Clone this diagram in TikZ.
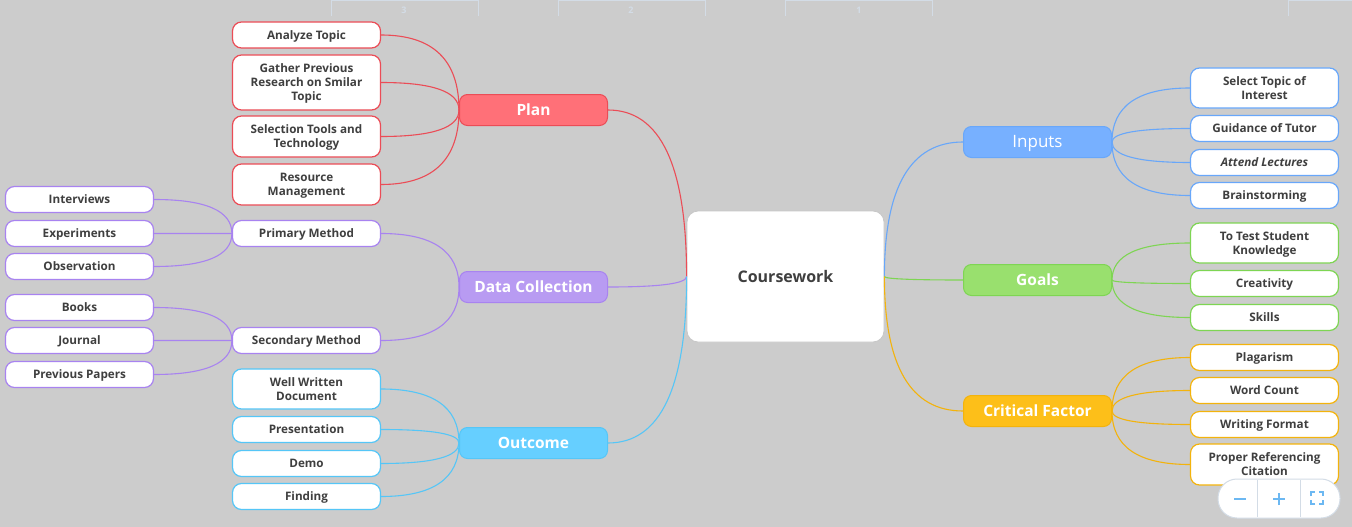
\documentclass[tikz,border=0pt]{standalone}
\usepackage{fontspec}
\usetikzlibrary{calc}
\setmainfont{Open Sans}
\definecolor{bg}{HTML}{CCCCCC}
\definecolor{txt}{HTML}{3F3F3F}
\definecolor{redf}{HTML}{FF7078}
\definecolor{redl}{HTML}{EB4C56}
\definecolor{purf}{HTML}{B89BF2}
\definecolor{purl}{HTML}{A883F0}
\definecolor{cyaf}{HTML}{66CFFF}
\definecolor{cyal}{HTML}{55C6F7}
\definecolor{bluf}{HTML}{77B0FF}
\definecolor{blul}{HTML}{68A7FA}
\definecolor{grnf}{HTML}{99E06E}
\definecolor{grnl}{HTML}{7ED553}
\definecolor{yelf}{HTML}{FDBF19}
\definecolor{yell}{HTML}{F3B30C}
\definecolor{uiline}{HTML}{D3DCE6}
\definecolor{uiblue}{HTML}{6CB8F2}
\tikzset{
  leaf/.style={draw, fill=white, rounded corners=9pt, line width=1.2pt, minimum width=148pt,
    minimum height=26pt, inner sep=0pt, align=center, text=txt, text depth=0.5pt,
    font=\fontsize{11.7}{14}\selectfont\bfseries},
  mainbox/.style={draw, rounded corners=8pt, line width=1pt, minimum width=148pt,
    minimum height=31pt, inner sep=0pt, text=white, text depth=1pt, font=\fontsize{15.5}{18}\selectfont\bfseries},
  conn/.style={line width=1.1pt},
}
% quadratic curve from #2 to #3 with control point at (#3 x, #2 y)
\newcommand{\qcurve}[3]{%
  \draw[conn,#1] (#2) .. controls ($(#2)!0.667!(#3 |- #2)$) and ($(#3)!0.667!(#3 |- #2)$) .. (#3);}
\begin{document}
\begin{tikzpicture}[x=1pt,y=-1pt]
\fill[bg] (0,0) rectangle (1352,527);
\useasboundingbox (0,0) rectangle (1352,527);
% faint UI tabs at the top
\foreach \a/\b in {331/478,558/705,785/932,1288/1352}{
  \draw[uiline, line width=1pt] (\a,1) -- (\b,1);
  \draw[uiline, line width=0.8pt] (\a,0) -- (\a,16);
  \draw[uiline, line width=0.8pt] (\b,0) -- (\b,16);
}
\node[text=uiline, font=\fontsize{9}{10}\selectfont\bfseries] (t3) at (404,10) {3};
\node[text=uiline, font=\fontsize{9}{10}\selectfont\bfseries] (t2) at (631,10) {2};
\node[text=uiline, font=\fontsize{9}{10}\selectfont\bfseries] (t1) at (859,10) {1};

% central
\node[draw=black!22, fill=white, rounded corners=11pt, line width=0.8pt, minimum width=197pt, minimum height=131pt,
  text=txt, font=\fontsize{16}{18}\selectfont\bfseries] (cw) at (785.5,276.5) {Coursework};

% main branches
\node[mainbox, fill=redf, draw=redl] (plan) at (533.5,110) {Plan};
\node[mainbox, fill=purf, draw=purl] (dc) at (533.5,287) {Data Collection};
\node[mainbox, fill=cyaf, draw=cyal] (out) at (533.5,443) {Outcome};
\node[mainbox, fill=bluf, draw=blul, font=\fontsize{17}{19}\selectfont] (inp) at (1037.5,142) {Inputs};
\node[mainbox, fill=grnf, draw=grnl] (goal) at (1037.5,280) {Goals};
\node[mainbox, fill=yelf, draw=yell] (crit) at (1037.5,411) {Critical Factor};

% Plan leaves
\node[leaf, draw=redl] (p1) at (306.5,35) {Analyze Topic};
\node[leaf, draw=redl, minimum height=55pt] (p2) at (306.5,82.5) {Gather Previous\\Research on Smilar\\Topic};
\node[leaf, draw=redl, minimum height=41pt] (p3) at (306.5,136.5) {Selection Tools and\\Technology};
\node[leaf, draw=redl, minimum height=41pt] (p4) at (306.5,184.5) {Resource\\Management};

% Data collection
\node[leaf, draw=purl] (pm) at (306.5,233.5) {Primary Method};
\node[leaf, draw=purl] (sm) at (306.5,340.5) {Secondary Method};
\node[leaf, draw=purl] (d1) at (79.5,199.5) {Interviews};
\node[leaf, draw=purl] (d2) at (79.5,233.5) {Experiments};
\node[leaf, draw=purl] (d3) at (79.5,266.5) {Observation};
\node[leaf, draw=purl] (d4) at (79.5,307.5) {Books};
\node[leaf, draw=purl] (d5) at (79.5,340.5) {Journal};
\node[leaf, draw=purl] (d6) at (79.5,374.5) {Previous Papers};

% Outcome
\node[leaf, draw=cyal, minimum height=40pt] (o1) at (306.5,389) {Well Written\\Document};
\node[leaf, draw=cyal] (o2) at (306.5,429.5) {Presentation};
\node[leaf, draw=cyal] (o3) at (306.5,463.5) {Demo};
\node[leaf, draw=cyal] (o4) at (306.5,496.5) {Finding};

% Inputs
\node[leaf, draw=blul, minimum height=40pt] (i1) at (1264.5,88) {Select Topic of\\Interest};
\node[leaf, draw=blul] (i2) at (1264.5,128.5) {Guidance of Tutor};
\node[leaf, draw=blul, font=\fontsize{11.7}{14}\selectfont\bfseries\itshape] (i3) at (1264.5,162.5) {Attend Lectures};
\node[leaf, draw=blul] (i4) at (1264.5,195.5) {Brainstorming};

% Goals
\node[leaf, draw=grnl, minimum height=40pt] (g1) at (1264.5,243) {To Test Student\\Knowledge};
\node[leaf, draw=grnl] (g2) at (1264.5,283.5) {Creativity};
\node[leaf, draw=grnl] (g3) at (1264.5,317.5) {Skills};

% Critical factor
\node[leaf, draw=yell] (c1) at (1264.5,357.5) {Plagarism};
\node[leaf, draw=yell] (c2) at (1264.5,390.5) {Word Count};
\node[leaf, draw=yell] (c3) at (1264.5,424.5) {Writing Format};
\node[leaf, draw=yell, minimum height=41pt] (c4) at (1264.5,464.5) {Proper Referencing\\Citation};

% connectors: centre to main
\qcurve{redl}{plan.east}{cw.west}
\qcurve{purl}{dc.east}{cw.west}
\qcurve{cyal}{out.east}{cw.west}
\qcurve{blul}{inp.west}{cw.east}
\qcurve{grnl}{goal.west}{cw.east}
\qcurve{yell}{crit.west}{cw.east}

% left leaves
\foreach \n in {p1,p2,p3,p4} {\qcurve{redl}{\n.east}{plan.west}}
\foreach \n in {pm,sm} {\qcurve{purl}{\n.east}{dc.west}}
\foreach \n in {d1,d2,d3} {\qcurve{purl}{\n.east}{pm.west}}
\foreach \n in {d4,d5,d6} {\qcurve{purl}{\n.east}{sm.west}}
\foreach \n in {o1,o2,o3,o4} {\qcurve{cyal}{\n.east}{out.west}}

% right leaves
\foreach \n in {i1,i2,i3,i4} {\qcurve{blul}{\n.west}{inp.east}}
\foreach \n in {g1,g2,g3} {\qcurve{grnl}{\n.west}{goal.east}}
\foreach \n in {c1,c2,c3,c4} {\qcurve{yell}{\n.west}{crit.east}}

% zoom control
\node[draw=uiline, fill=white, rounded corners=19pt, line width=1pt, minimum width=122pt, minimum height=39pt, inner sep=0pt] (zc) at (1279,498.5) {};
\coordinate (zd1t) at (1257,480);
\coordinate (zd1b) at (1257,517);
\coordinate (zd2t) at (1300,480);
\coordinate (zd2b) at (1300,517);
\draw[uiline, line width=0.8pt] (zd1t) -- (zd1b);
\draw[uiline, line width=0.8pt] (zd2t) -- (zd2b);
\coordinate (zm) at (1240,499);
\coordinate (zp) at (1279,499);
\coordinate (zf) at (1317,498);
\draw[uiblue, line width=2pt] ([xshift=-6pt]zm) -- ([xshift=6pt]zm);
\draw[uiblue, line width=2pt] ([xshift=-6pt]zp) -- ([xshift=6pt]zp) ([yshift=-6pt]zp) -- ([yshift=6pt]zp);
\draw[uiblue, line width=1.3pt]
  ([shift={(-6,-2)}]zf) -- ([shift={(-6,-6)}]zf) -- ([shift={(-2,-6)}]zf)
  ([shift={(2,-6)}]zf) -- ([shift={(6,-6)}]zf) -- ([shift={(6,-2)}]zf)
  ([shift={(6,2)}]zf) -- ([shift={(6,6)}]zf) -- ([shift={(2,6)}]zf)
  ([shift={(-2,6)}]zf) -- ([shift={(-6,6)}]zf) -- ([shift={(-6,2)}]zf);
\end{tikzpicture}
\end{document}
